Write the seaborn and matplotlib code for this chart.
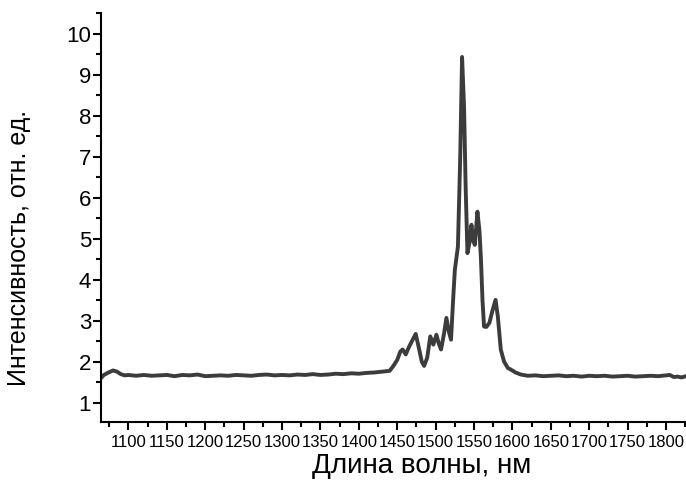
import matplotlib
matplotlib.use("Agg")
import matplotlib.pyplot as plt
import seaborn as sns
import pandas as pd
from matplotlib.ticker import MultipleLocator

wavelength = [1064, 1068, 1074, 1080, 1085, 1090, 1095, 1100, 1110, 1120, 1130, 1140,
              1150, 1160, 1170, 1180, 1190, 1200, 1210, 1220, 1230, 1240, 1250, 1260,
              1270, 1280, 1290, 1300, 1310, 1320, 1330, 1340, 1350, 1360, 1370, 1380,
              1390, 1400, 1410, 1420, 1430, 1440, 1445, 1450, 1454, 1457, 1461, 1465,
              1469, 1474, 1478, 1482, 1485, 1489, 1493, 1497, 1501, 1504, 1507, 1511,
              1514, 1517, 1520, 1523, 1525, 1529, 1532, 1534.4, 1537, 1539, 1541.4, 1544,
              1546.6, 1549, 1551, 1554.4, 1557, 1559, 1561, 1563, 1566, 1570, 1574, 1578,
              1581, 1584.8, 1589, 1594, 1598, 1604, 1611, 1620, 1630, 1640, 1650, 1660,
              1670, 1680, 1690, 1700, 1710, 1720, 1730, 1740, 1750, 1760, 1770, 1780,
              1790, 1800, 1805, 1810, 1815, 1820, 1826]
intensity = [1.60, 1.68, 1.74, 1.79, 1.76, 1.70, 1.67, 1.68, 1.66, 1.68, 1.66, 1.67,
             1.68, 1.65, 1.68, 1.67, 1.69, 1.65, 1.66, 1.67, 1.66, 1.68, 1.67, 1.66,
             1.68, 1.69, 1.67, 1.68, 1.67, 1.69, 1.68, 1.70, 1.68, 1.69, 1.71, 1.70,
             1.72, 1.71, 1.73, 1.74, 1.76, 1.78, 1.90, 2.05, 2.25, 2.30, 2.18, 2.35,
             2.50, 2.68, 2.35, 2.00, 1.90, 2.10, 2.62, 2.42, 2.66, 2.45, 2.30, 2.70,
             3.07, 2.75, 2.54, 3.60, 4.24, 4.81, 7.00, 9.43, 8.20, 6.30, 4.65, 4.90,
             5.34, 4.95, 4.85, 5.66, 5.20, 4.50, 3.50, 2.86, 2.85, 2.95, 3.25, 3.51,
             3.10, 2.30, 2.01, 1.85, 1.81, 1.74, 1.69, 1.66, 1.67, 1.65, 1.66, 1.67,
             1.65, 1.66, 1.64, 1.66, 1.65, 1.66, 1.64, 1.65, 1.66, 1.64, 1.65, 1.66,
             1.65, 1.67, 1.68, 1.63, 1.64, 1.62, 1.65]

df = pd.DataFrame({"x": wavelength, "y": intensity})

sns.set_style("ticks")
plt.rcParams["font.family"] = ["Liberation Sans", "DejaVu Sans"]

fig = plt.figure(figsize=(6.86, 4.83), dpi=100)
ax = fig.add_axes([0.147, 0.126, 0.853, 0.847])
sns.lineplot(data=df, x="x", y="y", ax=ax, color="#3c3c3c", linewidth=2.8)

ax.set_xlim(1064, 1826)
ax.set_ylim(0.53, 10.5)
ax.xaxis.set_major_locator(MultipleLocator(50))
ax.xaxis.set_minor_locator(MultipleLocator(25))
ax.yaxis.set_major_locator(MultipleLocator(1))
ax.yaxis.set_minor_locator(MultipleLocator(0.5))

for s in ["top", "right"]:
    ax.spines[s].set_visible(False)
for s in ["left", "bottom"]:
    ax.spines[s].set_linewidth(1.5)
    ax.spines[s].set_color("black")

ax.tick_params(axis="x", which="major", length=6, width=1.5, labelsize=12, pad=3,
               colors="black")
ax.tick_params(axis="x", which="minor", length=3.5, width=1.5, colors="black")
ax.tick_params(axis="y", which="major", length=6, width=1.5, labelsize=16, pad=1,
               colors="black")
ax.tick_params(axis="y", which="minor", length=3.5, width=1.5, colors="black")

ax.set_xlabel("Длина волны, нм", fontsize=20, color="black")
ax.set_ylabel("Интенсивность, отн. ед.", fontsize=18, color="black")
ax.xaxis.set_label_coords(0.549, -0.075)
ax.yaxis.set_label_coords(-0.12, 0.425)

fig.savefig("out.png", dpi=100)
